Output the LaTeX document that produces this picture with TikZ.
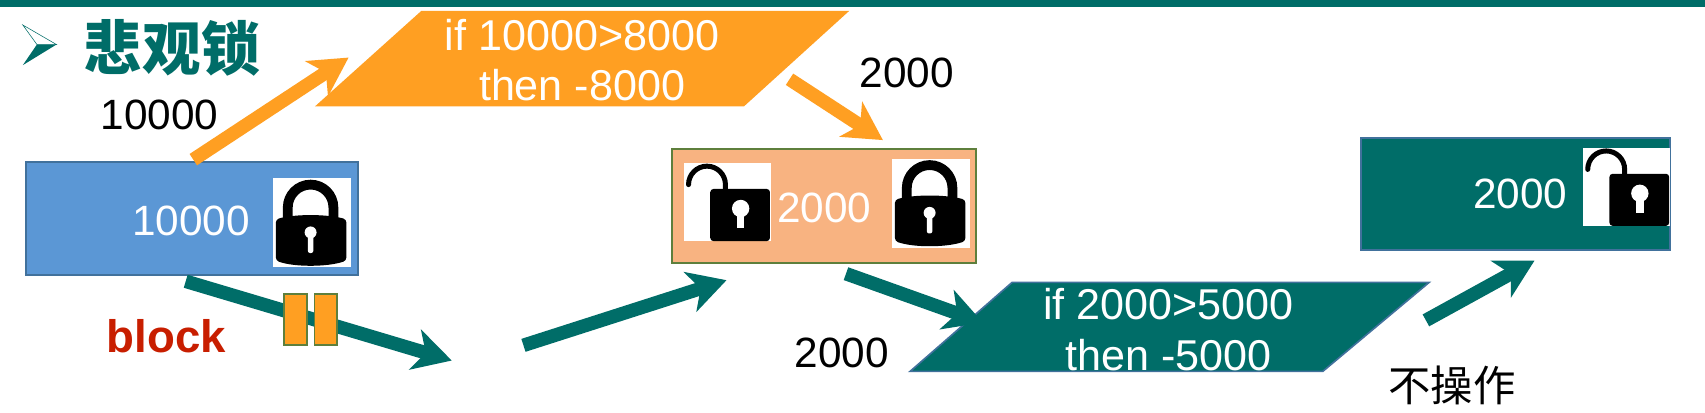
\documentclass[tikz,border=0pt]{standalone}
\usepackage{fontspec}
\setmainfont{Liberation Sans}
\newfontfamily\cjk{Noto Sans CJK SC}
\usetikzlibrary{arrows.meta}
\definecolor{teal0}{HTML}{006D68}
\definecolor{orange0}{HTML}{FF9F22}
\definecolor{blue0}{HTML}{5B97D5}
\definecolor{peach}{HTML}{F8B381}
\definecolor{olive0}{HTML}{5E7F3C}
\definecolor{steel}{HTML}{41719C}
\definecolor{red0}{HTML}{C81E00}
\tikzset{
  x=1pt,y=-1pt,
  txt/.style={font=\fontsize{39}{39}\selectfont,inner sep=0pt,text=#1},
  txt/.default=black,
  ptxt/.style={font=\fontsize{39.7}{39.7}\selectfont,inner sep=0pt,text=white},
  statebox/.style={draw=#1,line width=2pt,inner sep=0pt,anchor=north west},
  orangearrow/.style={draw=orange0,line width=12.5pt,-{Stealth[length=35pt,width=38pt,inset=10pt]}},
  tealarrow/.style={draw=teal0,line width=12.5pt,-{Stealth[length=35pt,width=38pt,inset=10pt]}},
  blockbar/.style={draw=olive0,fill=orange0,line width=1.6pt,minimum width=21pt,minimum height=47pt,inner sep=0pt},
  pics/closedlock/.style={code={
    \fill[white] (0,0) rectangle (72,82);
    \draw[black,line width=9pt] (14,40) -- (14,27) arc[start angle=180,end angle=0,radius=21pt] -- (56,40);
    \fill[black,rounded corners=3pt] (3,38) .. controls (20,33) and (50,33) .. (68,38) -- (68,76) .. controls (50,82) and (20,82) .. (3,76) -- cycle;
    \fill[white] (35,50) circle[radius=5.5pt];
    \fill[white,rounded corners=2pt] (32.5,50) rectangle (37.5,69);
  }},
  pics/openlock/.style={code={
    \fill[white] (0,0) rectangle (80,72);
    \draw[black,line width=4.6pt,line cap=round] (4,20) arc[start angle=180,end angle=0,radius=17pt] -- (38,26);
    \fill[black,rounded corners=3pt] (24,24) rectangle (79,72);
    \fill[white] (52,42) circle[radius=8pt];
    \fill[white] (48.5,42) rectangle (55.5,60);
  }},
}
\begin{document}
\begin{tikzpicture}
\useasboundingbox (0,0) rectangle (1570,380);
\fill[white] (0,0) rectangle (1570,380);
% top rule
\fill[teal0] (0,0) rectangle (1570,6);
% bullet
\draw[teal0,line width=.5pt,fill=white] (21,23) -- (52,41) -- (34,41) -- cycle;
\fill[teal0] (21,60) -- (52,41) -- (34,41) -- cycle;
\node[anchor=west,inner sep=0pt,text=teal0,font=\cjk\bfseries\fontsize{54}{54}\selectfont] (title) at (77,44) {悲观锁};
% parallelograms
\fill[orange0] (290,98) -- (685,98) -- (782,10) -- (388,10) -- cycle;
\draw[fill=teal0,draw=steel,line width=1.5pt] (838,342) -- (1218,342) -- (1316,260) -- (932,260) -- cycle;
\node[ptxt] (cond1) at (536,32) {if 10000>8000};
\node[ptxt] (then1) at (536,78) {then -8000};
\node[ptxt] (cond2) at (1076,280) {if 2000>5000};
\node[ptxt] (then2) at (1076,327) {then -5000};
% boxes
\node[statebox=steel,fill=blue0,minimum width=306pt,minimum height=104pt] (acct1) at (23,148) {};
\node[statebox=olive0,fill=peach,minimum width=280pt,minimum height=105pt] (acct2) at (618,136) {};
\node[statebox=steel,fill=teal0,minimum width=285pt,minimum height=103pt] (acct3) at (1252,126) {};
\node[txt=white] (val1) at (176,203) {10000};
\node[txt=white] (val2) at (759,191) {2000};
\node[txt=white] (val3) at (1400,179) {2000};
\pic at (251,164) {closedlock};
\pic at (630,150) {openlock};
\pic at (821,146) {closedlock};
\pic at (1458,136) {openlock};
% labels
\node[txt] (read1) at (147,106) {10000};
\node[txt] (read2) at (835,67) {2000};
\node[txt] (read3) at (775,325) {2000};
\node[inner sep=0pt,text=red0,font=\bfseries\fontsize{42}{42}\selectfont] (blocklabel) at (153,310) {block};
\node[inner sep=0pt,font=\cjk\fontsize{39}{39}\selectfont] (noop) at (1337,355) {不操作};
% connector ends
\coordinate (a1s) at (178,147); \coordinate (a1e) at (321,53);
\coordinate (a2s) at (727,73);  \coordinate (a2e) at (813,129);
\coordinate (b1s) at (171,259); \coordinate (b1e) at (416,332);
\coordinate (b2s) at (482,318); \coordinate (b2e) at (669,258);
\coordinate (b3s) at (779,252); \coordinate (b3e) at (905,297);
\coordinate (b4s) at (1313,295);\coordinate (b4e) at (1413,240);
\draw[orangearrow] (a1s) -- (a1e);
\draw[orangearrow] (a2s) -- (a2e);
\draw[tealarrow] (b1s) -- (b1e);
\draw[tealarrow] (b2s) -- (b2e);
\draw[tealarrow] (b3s) -- (b3e);
\draw[tealarrow] (b4s) -- (b4e);
\node[blockbar] (bar1) at (272,294) {};
\node[blockbar] (bar2) at (300,294) {};
\end{tikzpicture}
\end{document}
